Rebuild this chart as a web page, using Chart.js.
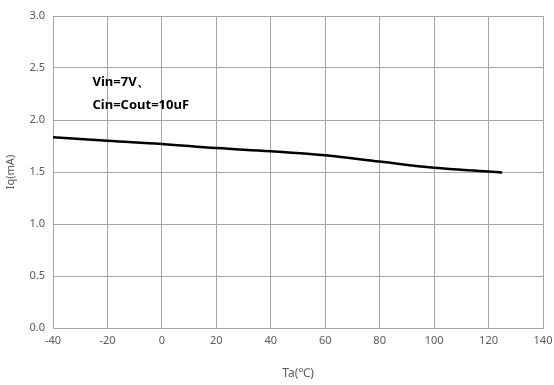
<!DOCTYPE html>
<html>
<head>
<meta charset="UTF-8">
<title>Iq vs Ta</title>
<script src="https://cdn.jsdelivr.net/npm/chart.js"></script>
<style>
    html, body { margin: 0; padding: 0; background: #fff; }
    #wrap { width: 554px; height: 385px; }
</style>
</head>
<body>
<div id="wrap"><canvas id="chart"></canvas></div>
<script>
    // values
    const temps = [-40, -20, 0, 20, 40, 60, 80, 100, 120, 125];
    const iq = [1.835, 1.80, 1.77, 1.73, 1.70, 1.66, 1.60, 1.54, 1.505, 1.495];
    const noteLines = ['Vin=7V、', 'Cin=Cout=10uF'];

    const gridColor = '#a6a6a6';
    const tickColor = '#595959';
    const fontFam = '"Noto Sans", "DejaVu Sans", sans-serif';

    // draws the condition note inside the plot
    const notePlugin = {
        id: 'note',
        afterDatasetsDraw(chart) {
            const ctx = chart.ctx;
            const x = chart.scales.x.getPixelForValue(-25.5);
            ctx.save();
            ctx.font = 'bold 13px ' + fontFam;
            ctx.fillStyle = '#000';
            ctx.textBaseline = 'middle';
            ctx.fillText(noteLines[0], x, chart.scales.y.getPixelForValue(2.36));
            ctx.fillText(noteLines[1], x, chart.scales.y.getPixelForValue(2.14));
            ctx.restore();
        }
    };

    new Chart(document.getElementById('chart'), {
        type: 'line',
        data: {
            datasets: [{
                data: temps.map((t, i) => ({ x: t, y: iq[i] })),
                borderColor: '#000',
                borderWidth: 2.5,
                pointRadius: 0,
                tension: 0.4,
                fill: false
            }]
        },
        options: {
            responsive: true,
            maintainAspectRatio: false,
            animation: false,
            layout: { padding: 0 },
            plugins: { legend: { display: false }, tooltip: { enabled: false } },
            scales: {
                x: {
                    type: 'linear',
                    min: -40, max: 140,
                    ticks: { stepSize: 20, color: tickColor, font: { family: fontFam, size: 11 }, padding: 6 },
                    grid: { color: gridColor, lineWidth: 1, drawTicks: false },
                    border: { color: gridColor },
                    title: { display: true, text: 'Ta(℃)', color: tickColor, font: { family: fontFam, size: 12 }, padding: { top: 12 } },
                    afterFit(s) { s.height = 57; s.paddingRight = 11; }
                },
                y: {
                    min: 0, max: 3,
                    ticks: { stepSize: 0.5, color: tickColor, font: { family: fontFam, size: 11 }, padding: 8,
                        callback: v => v.toFixed(1) },
                    grid: { color: gridColor, lineWidth: 1, drawTicks: false },
                    border: { color: gridColor },
                    title: { display: true, text: 'Iq(mA)', color: tickColor, font: { family: fontFam, size: 11 } },
                    afterFit(s) { s.width = 53; s.paddingTop = 16; }
                }
            }
        },
        plugins: [notePlugin]
    });
</script>
</body>
</html>
